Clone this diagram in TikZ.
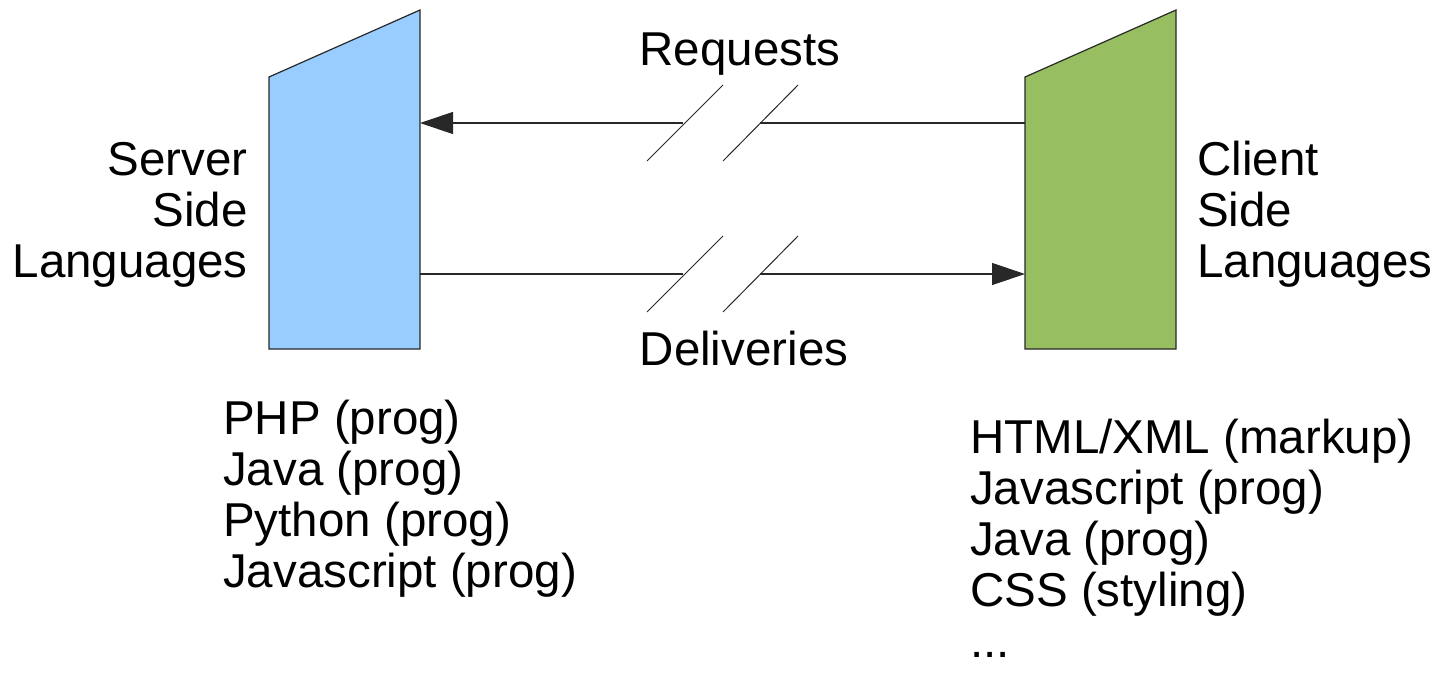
\documentclass[tikz,border=0pt]{standalone}
\usepackage{fontspec}
\setmainfont{Liberation Sans}
\usetikzlibrary{arrows.meta}
\definecolor{serverblue}{RGB}{153,204,255}
\definecolor{clientgreen}{RGB}{151,190,96}
\definecolor{linegray}{RGB}{40,40,40}
\begin{document}
\begin{tikzpicture}[x=1pt,y=-1pt,
  lbl/.style={inner sep=0pt,font=\fontsize{47.5}{51}\selectfont},
  panel/.style={draw=linegray,line width=1.2pt},
  conn/.style={draw=linegray,line width=1.2pt},
  brk/.style={draw=linegray,line width=1pt},
  tip/.style={-{Triangle[length=33pt,width=22pt]}}]
\useasboundingbox (0,0) rectangle (1439,673);
% panels
\path[panel,fill=serverblue] (269,77) -- (420,10) -- (420,349) -- (269,349) -- cycle;
\path[panel,fill=clientgreen] (1025,77) -- (1176,10) -- (1176,349) -- (1025,349) -- cycle;
\coordinate (sreq) at (420,123);
\coordinate (sdel) at (420,274);
\coordinate (creq) at (1025,123);
\coordinate (cdel) at (1025,274);
\coordinate (rbA) at (683,123);
\coordinate (rbB) at (760,123);
\coordinate (dbA) at (683,274);
\coordinate (dbB) at (760,274);
% requests
\draw[conn] (creq) -- (rbB);
\draw[conn,tip] (rbA) -- (sreq);
\draw[brk] (647,161) -- (723,85);
\draw[brk] (723,161) -- (798,85);
% deliveries
\draw[conn] (sdel) -- (dbA);
\draw[conn,tip] (dbB) -- (cdel);
\draw[brk] (647,312) -- (723,236);
\draw[brk] (723,312) -- (798,236);
% labels (base anchor of a multi-line node = baseline of its last line)
\node[lbl,anchor=base] (req) at (740,65) {Requests};
\node[lbl,anchor=base] (del) at (744,365) {Deliveries};
\node[lbl,anchor=base east,align=right] (srv) at (248,277) {Server\\Side\\Languages};
\node[lbl,anchor=base west,align=left] (cli) at (1197,277) {Client\\Side\\Languages};
\node[lbl,anchor=base west,align=left] (slist) at (223,587) {PHP (prog)\\Java (prog)\\Python (prog)\\Javascript (prog)};
\node[lbl,anchor=base west,align=left] (clist) at (970,657) {HTML/XML (markup)\\Javascript (prog)\\Java (prog)\\CSS (styling)\\...};
\end{tikzpicture}
\end{document}
